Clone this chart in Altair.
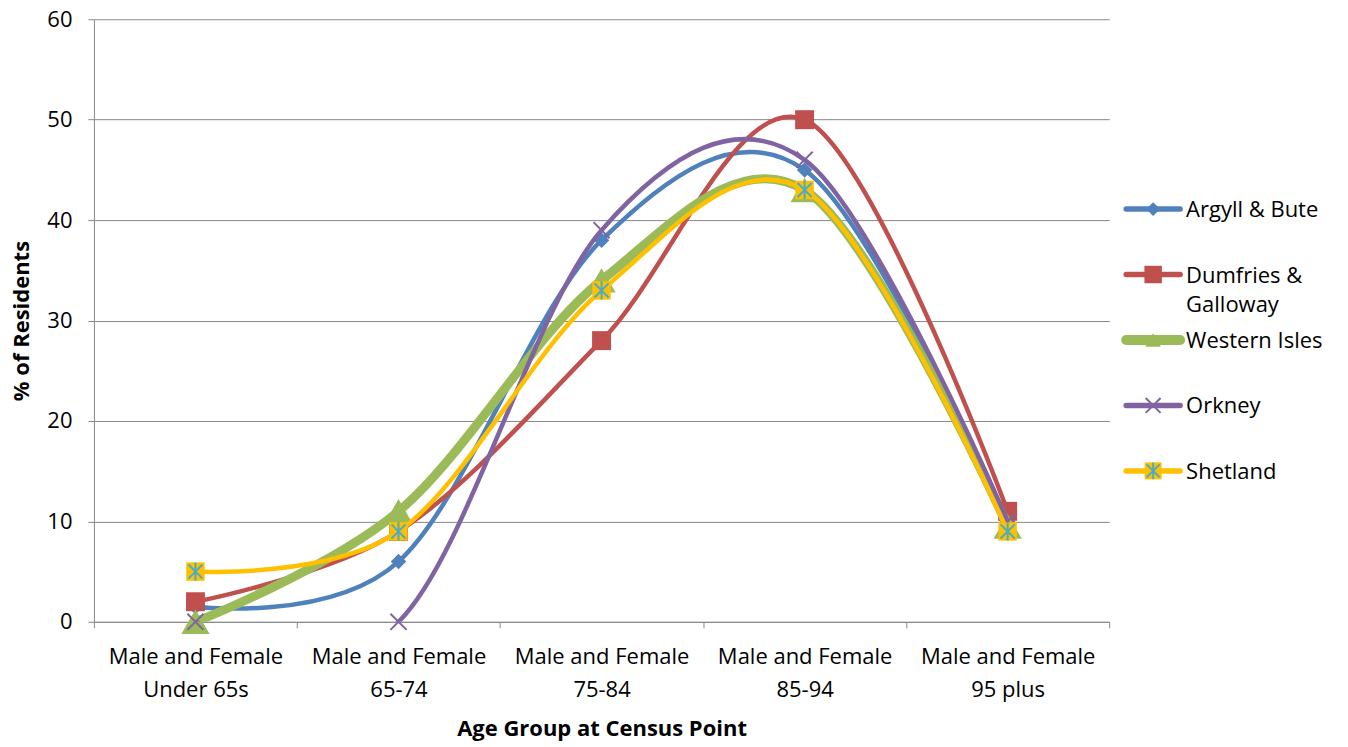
import altair as alt
import pandas as pd

categories = ["Male and Female Under 65s", "Male and Female 65-74", "Male and Female 75-84",
              "Male and Female 85-94", "Male and Female 95 plus"]
series = ["Argyll & Bute", "Dumfries & Galloway", "Western Isles", "Orkney", "Shetland"]
legend_labels = ["Argyll & Bute", "Dumfries &\nGalloway", "Western Isles", "Orkney", "Shetland"]

argyll = [1.5, 6, 38, 45, 10]
dumfries = [2, 9, 28, 50, 11]
western = [0, 11, 34, 43, 9.5]
orkney = [0, 0, 39, 46, 10]
shetland = [5, 9, 33, 43, 9]

values = [argyll, dumfries, western, orkney, shetland]

colors = ["#4F81BD", "#C0504D", "#9BBB59", "#8064A2", "#FFC000"]
widths = [4.5, 4.5, 9, 4.5, 4.5]

FONT = "Open Sans"
FS = 22
TFS = 22
GRID = "#878787"

rows = []
for s, vals in zip(series, values):
    for c, v in zip(categories, vals):
        rows.append({"Series": s, "Category": c, "Value": v})
df = pd.DataFrame(rows)

x_enc = alt.X(
    "Category:N", sort=categories, bandPosition=0.5,
    scale=alt.Scale(type="band", paddingInner=0, paddingOuter=0),
    axis=alt.Axis(
        title="Age Group at Census Point", labelAngle=0, tickBand="extent",
        labelExpr="indexof(datum.label, 'Male') >= 0 ? ['Male and Female', replace(datum.label, 'Male and Female ', '')] : ''",
        labelLineHeight=33, labelFontSize=FS, labelPadding=19, labelColor="#000",
        labelFont=FONT, domainColor=GRID, tickColor=GRID, tickSize=6,
        titleFont=FONT, titleFontSize=TFS, titleFontWeight="bold", titleColor="#000",
        titlePadding=18, grid=False,
    ),
)
y_enc = alt.Y(
    "Value:Q", scale=alt.Scale(domain=[0, 60], nice=False),
    axis=alt.Axis(
        title="% of Residents", values=[0, 10, 20, 30, 40, 50, 60],
        labelFontSize=FS, labelFont=FONT, labelColor="#000", labelPadding=16,
        tickSize=6, tickColor=GRID, domainColor=GRID, gridColor=GRID, grid=True,
        minExtent=51, maxExtent=51,
        titleFont=FONT, titleFontSize=TFS, titleFontWeight="bold", titleColor="#000",
        titlePadding=9,
    ),
)

legend_scale = [0.8, 0.85, 0.3, 0.85, 0.85]


def marker_layers(base, i, s=1.0):
    if i == 0:
        return [base.mark_point(shape="diamond", filled=True, size=240 * s, color=colors[0], opacity=1)]
    if i == 1:
        return [base.mark_point(shape="square", filled=True, size=360 * s, color=colors[1], opacity=1)]
    if i == 2:
        return [base.mark_point(shape="triangle-up", filled=True, size=800 * s, color=colors[2], opacity=1)]
    if i == 3:
        return [base.mark_point(shape="M-1,-1L1,1M-1,1L1,-1", filled=False, size=260 * s,
                                color=colors[3], strokeWidth=2, opacity=1)]
    return [
        base.mark_point(shape="square", filled=True, size=340 * s, color=colors[4], opacity=1),
        base.mark_point(shape="M-1,-1L1,1M-1,1L1,-1M0,-1.3L0,1.3", filled=False, size=200 * s,
                        color="#4BACC6", strokeWidth=2, opacity=1),
    ]


layers = []
for i, s in enumerate(series):
    base = alt.Chart(df).transform_filter(alt.datum.Series == s).encode(x=x_enc, y=y_enc)
    layers.append(base.mark_line(interpolate="cardinal", tension=0, color=colors[i],
                                 strokeWidth=widths[i], clip=True))
    layers.extend(marker_layers(base, i))

main = alt.layer(*layers).properties(width=1016, height=603)

leg_df = pd.DataFrame({"Series": series, "Label": legend_labels, "Order": list(range(len(series)))})
ly = alt.Y("Order:Q", scale=alt.Scale(domain=[-2.9, 6.306], reverse=True, nice=False, zero=False), axis=None)
leg_layers = []
for i, s in enumerate(series):
    b = alt.Chart(leg_df).transform_filter(alt.datum.Series == s)
    leg_layers.append(b.mark_rule(color=colors[i], strokeWidth=widths[i] + 1, strokeCap="round")
                      .encode(x=alt.value(16), x2=alt.value(70), y=ly))
    for m in marker_layers(b.encode(x=alt.value(43), y=ly), i, legend_scale[i]):
        leg_layers.append(m)
    leg_layers.append(b.mark_text(align="left", baseline="alphabetic", dy=8, lineBreak="\n",
                                  lineHeight=30, fontSize=FS, font=FONT, color="#000")
                      .encode(x=alt.value(76), y=ly, text="Label:N"))

legend = alt.layer(*leg_layers).properties(width=238, height=603)

chart = alt.hconcat(main, legend, spacing=0).resolve_scale(
    x="independent", y="independent"
).properties(
    padding={"left": 11, "top": 8, "right": 0, "bottom": 4},
    background="white",
).configure_view(strokeWidth=0)

chart.save("out.html", embed_options={"renderer": "svg", "actions": False})
